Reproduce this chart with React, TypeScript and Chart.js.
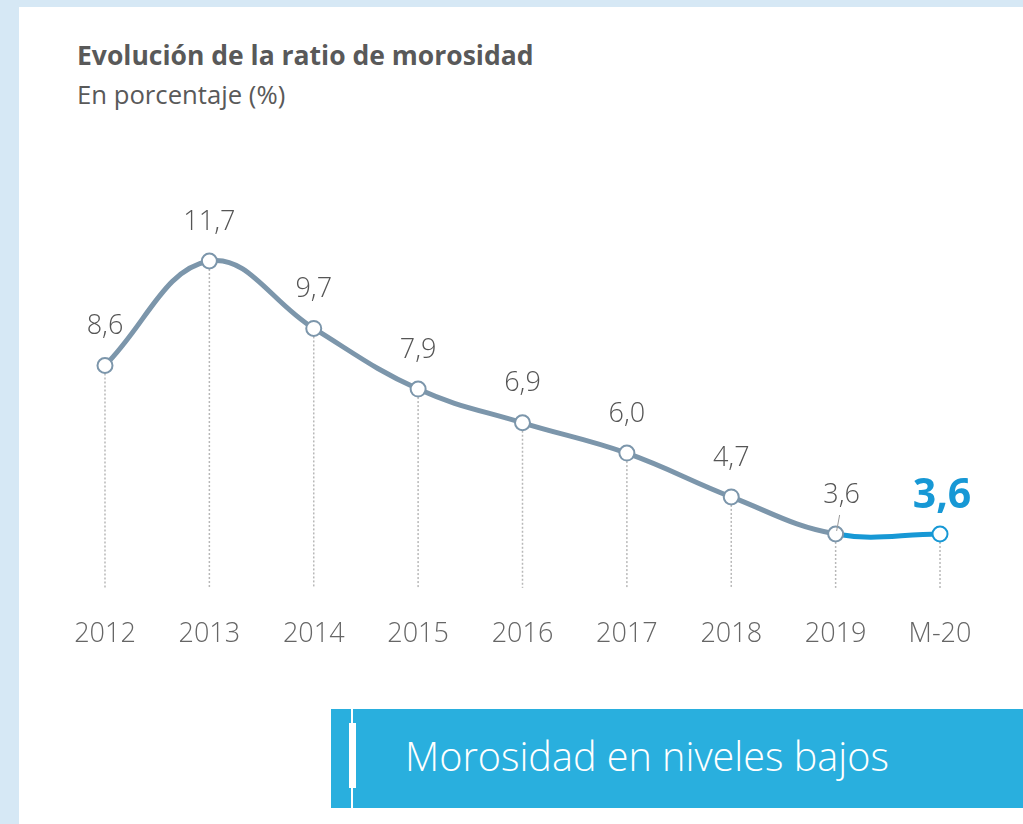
import React, { useEffect, useRef } from "react";
import { Chart, registerables } from "chart.js";

Chart.register(...registerables);

const categories = ["2012", "2013", "2014", "2015", "2016", "2017", "2018", "2019", "M-20"];
const ratio = [8.6, 11.7, 9.7, 7.9, 6.9, 6.0, 4.7, 3.6, 3.6];
const valueLabels = ["8,6", "11,7", "9,7", "7,9", "6,9", "6,0", "4,7", "3,6", "3,6"];

const GREY_BLUE = "#7c96ab";
const BLUE = "#1798d5";
const LABEL_FONT = "'Open Sans', 'Noto Sans', sans-serif";

const dropLines = {
  id: "dropLines",
  beforeDatasetsDraw(chart: any) {
    const meta = chart.getDatasetMeta(0);
    const ctx = chart.ctx;
    const bottom = chart.chartArea.bottom;
    ctx.save();
    ctx.strokeStyle = "#b8b8b8";
    ctx.lineWidth = 1.5;
    ctx.setLineDash([2, 2]);
    meta.data.forEach((pt: any) => {
      ctx.beginPath();
      ctx.moveTo(pt.x, pt.y);
      ctx.lineTo(pt.x, bottom);
      ctx.stroke();
    });
    ctx.restore();
  },
};

const pointLabels = {
  id: "pointLabels",
  afterDatasetsDraw(chart: any) {
    const meta = chart.getDatasetMeta(0);
    const ctx = chart.ctx;
    const last = meta.data.length - 1;
    ctx.save();
    ctx.textAlign = "center";
    ctx.textBaseline = "middle";
    meta.data.forEach((pt: any, i: number) => {
      if (i === last) {
        ctx.font = `bold 41px ${LABEL_FONT}`;
        ctx.fillStyle = BLUE;
        ctx.fillText(valueLabels[i], pt.x + 2, pt.y - 38);
      } else if (i === last - 1) {
        ctx.font = `300 27px ${LABEL_FONT}`;
        ctx.fillStyle = "#555555";
        ctx.fillText(valueLabels[i], pt.x + 6, pt.y - 39);
        ctx.strokeStyle = "#999999";
        ctx.lineWidth = 1;
        ctx.beginPath();
        ctx.moveTo(pt.x + 4, pt.y - 19);
        ctx.lineTo(pt.x + 1, pt.y - 3);
        ctx.stroke();
      } else {
        ctx.font = `300 27px ${LABEL_FONT}`;
        ctx.fillStyle = "#555555";
        ctx.fillText(valueLabels[i], pt.x, pt.y - 39);
      }
    });
    ctx.restore();
  },
};

function LineChart() {
  const ref = useRef<HTMLCanvasElement | null>(null);
  useEffect(() => {
    if (!ref.current) return;
    const last = ratio.length - 1;
    const chart = new Chart(ref.current, {
      type: "line",
      data: {
        labels: categories,
        datasets: [
          {
            data: ratio,
            borderColor: GREY_BLUE,
            borderWidth: 5,
            tension: 0.4,
            segment: {
              borderColor: (c: any) => (c.p1DataIndex === last ? BLUE : GREY_BLUE),
            },
            pointRadius: 7.5,
            pointHoverRadius: 7.5,
            pointBorderWidth: 2,
            pointBackgroundColor: "#ffffff",
            pointBorderColor: ratio.map((_, i) => (i === last ? BLUE : GREY_BLUE)),
          },
        ],
      },
      options: {
        responsive: false,
        animation: false,
        layout: { padding: { left: 52.8, right: 30.8, top: 217.2, bottom: 0 } },
        plugins: {
          legend: { display: false },
          tooltip: { enabled: false },
        },
        scales: {
          x: {
            offset: true,
            grid: { display: false, drawTicks: false },
            border: { display: false },
            ticks: {
              color: "#666666",
              padding: 30,
              font: { family: LABEL_FONT, size: 27, weight: "300" as any },
            },
            afterFit(scale: any) {
              scale.height = 112.1;
            },
          },
          y: {
            display: false,
            min: 2,
            max: 13,
          },
        },
      },
      plugins: [dropLines, pointLabels],
    });
    return () => chart.destroy();
  }, []);
  return (
    <canvas
      ref={ref}
      width={1023}
      height={700}
      style={{ position: "absolute", left: 0, top: 0, width: 1023, height: 700 }}
    />
  );
}

export default function App() {
  return (
    <div
      style={{
        position: "fixed",
        left: 0,
        top: 0,
        width: 1023,
        height: 824,
        background: "#d6e8f5",
        overflow: "hidden",
        fontFamily: "'Open Sans', 'Noto Sans', sans-serif",
      }}
    >
      <div
        style={{
          position: "absolute",
          left: 19,
          top: 7,
          right: 0,
          bottom: 0,
          background: "#ffffff",
        }}
      />
      <div
        style={{
          position: "absolute",
          left: 77,
          top: 41.5,
          fontSize: 26.5,
          lineHeight: "26.5px",
          fontWeight: 700,
          color: "#595959",
          whiteSpace: "nowrap",
        }}
      >
        Evolución de la ratio de morosidad
      </div>
      <div
        style={{
          position: "absolute",
          left: 77,
          top: 82,
          fontSize: 25.7,
          lineHeight: "25.7px",
          fontWeight: 400,
          color: "#595959",
          whiteSpace: "nowrap",
        }}
      >
        En porcentaje (%)
      </div>
      <LineChart />
      <div
        style={{
          position: "absolute",
          left: 331,
          top: 709,
          width: 692,
          height: 99,
          background: "#29afde",
        }}
      >
        <div style={{ position: "absolute", left: 20, top: 0, width: 2, height: 99, background: "#ffffff" }} />
        <div style={{ position: "absolute", left: 18, top: 14, width: 7, height: 65, background: "#ffffff" }} />
        <div
          style={{
            position: "absolute",
            left: 74,
            top: 27.8,
            fontSize: 39.6,
            lineHeight: "39.6px",
            fontWeight: 300,
            color: "#ffffff",
            whiteSpace: "nowrap",
          }}
        >
          Morosidad en niveles bajos
        </div>
      </div>
    </div>
  );
}
